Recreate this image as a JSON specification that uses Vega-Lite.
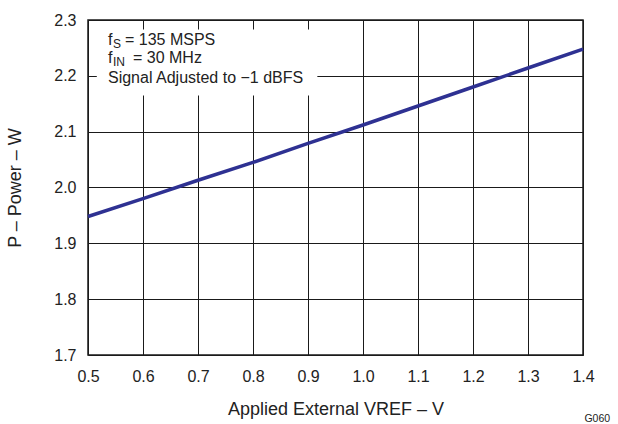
{
  "$schema": "https://vega.github.io/schema/vega-lite/v6.json",
  "width": 495,
  "height": 335,
  "autosize": {"type": "none"},
  "padding": {"left": 88, "top": 20, "right": 35, "bottom": 69},
  "background": "white",
  "config": {
    "font": "Liberation Sans",
    "view": {"stroke": "#1a1a1a", "strokeWidth": 1.5},
    "axis": {
      "grid": true,
      "gridColor": "#1a1a1a",
      "gridOpacity": 1,
      "gridWidth": 1,
      "domain": false,
      "ticks": false,
      "labelFlush": false,
      "labelFont": "Liberation Sans",
      "labelFontSize": 16,
      "labelColor": "#222",
      "titleFont": "Liberation Sans",
      "titleFontSize": 18,
      "titleFontWeight": "normal",
      "titleColor": "#222"
    }
  },
  "title": {
    "text": "G060",
    "orient": "bottom",
    "anchor": "end",
    "font": "Liberation Sans",
    "fontSize": 10.5,
    "fontWeight": "normal",
    "color": "#222",
    "dx": 16,
    "offset": -4
  },
  "layer": [
    {
      "data": {"values": [{}]},
      "mark": {"type": "rect", "fill": "white", "stroke": null},
      "encoding": {
        "x": {"datum": 0.516, "type": "quantitative"},
        "x2": {"datum": 0.917},
        "y": {"datum": 2.165, "type": "quantitative"},
        "y2": {"datum": 2.283}
      }
    },
    {
      "data": {
        "values": [
          {"vref": 0.5, "power": 1.948},
          {"vref": 0.6, "power": 1.980},
          {"vref": 0.7, "power": 2.013},
          {"vref": 0.8, "power": 2.045},
          {"vref": 0.9, "power": 2.079},
          {"vref": 1.0, "power": 2.112},
          {"vref": 1.1, "power": 2.146},
          {"vref": 1.2, "power": 2.180},
          {"vref": 1.3, "power": 2.214},
          {"vref": 1.4, "power": 2.248}
        ]
      },
      "mark": {"type": "line", "color": "#2E3192", "strokeWidth": 3.5, "clip": false},
      "encoding": {
        "x": {
          "field": "vref",
          "type": "quantitative",
          "scale": {"domain": [0.5, 1.4], "nice": false, "zero": false},
          "axis": {"values": [0.5, 0.6, 0.7, 0.8, 0.9, 1.0, 1.1, 1.2, 1.3, 1.4], "format": ".1f", "labelPadding": 13, "title": "Applied External VREF – V", "titlePadding": 16}
        },
        "y": {
          "field": "power",
          "type": "quantitative",
          "scale": {"domain": [1.7, 2.3], "nice": false, "zero": false},
          "axis": {"values": [1.7, 1.8, 1.9, 2.0, 2.1, 2.2, 2.3], "format": ".1f", "labelPadding": 12, "title": "P – Power – W", "titlePadding": 29}
        }
      }
    },
    {
      "data": {"values": [{}]},
      "mark": {"type": "text", "align": "left", "baseline": "alphabetic", "font": "Liberation Sans", "fontSize": 16, "fill": "#222"},
      "encoding": {
        "x": {"datum": 0.5363, "type": "quantitative"},
        "y": {"datum": 2.2552, "type": "quantitative"},
        "text": {"value": "f"}
      }
    },
    {
      "data": {"values": [{}]},
      "mark": {"type": "text", "align": "left", "baseline": "alphabetic", "font": "Liberation Sans", "fontSize": 12, "fill": "#222", "dx": 5, "dy": 3},
      "encoding": {
        "x": {"datum": 0.5363, "type": "quantitative"},
        "y": {"datum": 2.2552, "type": "quantitative"},
        "text": {"value": "S"}
      }
    },
    {
      "data": {"values": [{}]},
      "mark": {"type": "text", "align": "left", "baseline": "alphabetic", "font": "Liberation Sans", "fontSize": 16, "fill": "#222", "dx": 17},
      "encoding": {
        "x": {"datum": 0.5363, "type": "quantitative"},
        "y": {"datum": 2.2552, "type": "quantitative"},
        "text": {"value": "= 135 MSPS"}
      }
    },
    {
      "data": {"values": [{}]},
      "mark": {"type": "text", "align": "left", "baseline": "alphabetic", "font": "Liberation Sans", "fontSize": 16, "fill": "#222"},
      "encoding": {
        "x": {"datum": 0.5363, "type": "quantitative"},
        "y": {"datum": 2.2221, "type": "quantitative"},
        "text": {"value": "f"}
      }
    },
    {
      "data": {"values": [{}]},
      "mark": {"type": "text", "align": "left", "baseline": "alphabetic", "font": "Liberation Sans", "fontSize": 12, "fill": "#222", "dx": 5, "dy": 3},
      "encoding": {
        "x": {"datum": 0.5363, "type": "quantitative"},
        "y": {"datum": 2.2221, "type": "quantitative"},
        "text": {"value": "IN"}
      }
    },
    {
      "data": {"values": [{}]},
      "mark": {"type": "text", "align": "left", "baseline": "alphabetic", "font": "Liberation Sans", "fontSize": 16, "fill": "#222", "dx": 25},
      "encoding": {
        "x": {"datum": 0.5363, "type": "quantitative"},
        "y": {"datum": 2.2221, "type": "quantitative"},
        "text": {"value": "= 30 MHz"}
      }
    },
    {
      "data": {"values": [{}]},
      "mark": {"type": "text", "align": "left", "baseline": "alphabetic", "font": "Liberation Sans", "fontSize": 16, "fill": "#222"},
      "encoding": {
        "x": {"datum": 0.5363, "type": "quantitative"},
        "y": {"datum": 2.1872, "type": "quantitative"},
        "text": {"value": "Signal Adjusted to −1 dBFS"}
      }
    }
  ]
}
